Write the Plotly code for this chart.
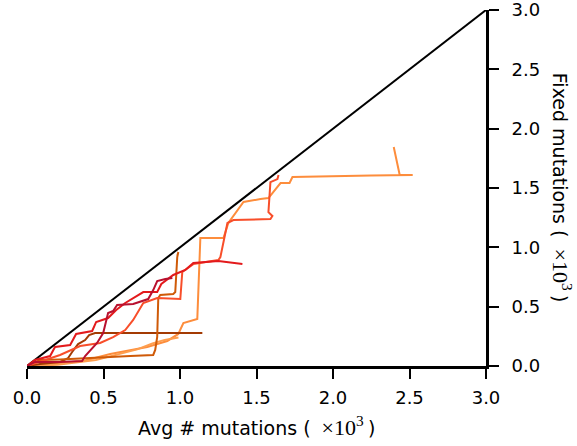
import plotly.graph_objects as go

# Diagonal reference (y = x)
diag_x = [0.0, 3.0]
diag_y = [0.0, 3.0]

# Trajectories: avg # mutations (x1000) vs fixed mutations (x1000)
long_orange_x = [0.0, 0.151, 0.367, 0.544, 0.694, 0.786, 0.917, 0.989, 1.022, 1.113, 1.133, 1.284, 1.316, 1.415, 1.526, 1.578, 1.657, 1.716, 1.735, 1.984, 2.25, 2.521, 2.436, 2.397]
long_orange_y = [0.0, 0.017, 0.042, 0.101, 0.135, 0.160, 0.211, 0.270, 0.362, 0.396, 1.078, 1.078, 1.205, 1.382, 1.407, 1.415, 1.542, 1.542, 1.592, 1.601, 1.605, 1.609, 1.609, 1.845]

short_orange_x = [0.0, 0.2, 0.45, 0.55, 0.72, 0.82, 0.9, 0.99]
short_orange_y = [0.0, 0.01, 0.05, 0.085, 0.14, 0.19, 0.22, 0.24]

orange_red_x = [0.0, 0.118, 0.216, 0.347, 0.478, 0.563, 0.642, 0.694, 0.760, 0.851, 1.002, 1.015, 1.087, 1.251, 1.264, 1.310, 1.349, 1.591, 1.604, 1.578, 1.591, 1.637, 1.644]
orange_red_y = [0.0, 0.051, 0.093, 0.168, 0.194, 0.244, 0.303, 0.388, 0.531, 0.573, 0.564, 0.792, 0.859, 0.893, 0.918, 1.205, 1.230, 1.238, 1.264, 1.297, 1.550, 1.575, 1.609]

red_x = [0.0, 0.052, 0.151, 0.183, 0.282, 0.321, 0.426, 0.452, 0.530, 0.583, 0.642, 0.760, 0.851, 0.878, 0.956, 1.035, 1.087, 1.251, 1.408]
red_y = [0.0, 0.051, 0.084, 0.160, 0.177, 0.270, 0.295, 0.371, 0.404, 0.472, 0.531, 0.623, 0.623, 0.691, 0.767, 0.809, 0.868, 0.885, 0.859]

crimson_x = [0.0, 0.052, 0.216, 0.360, 0.380, 0.458, 0.498, 0.517, 0.530, 0.563, 0.589, 0.694, 0.792, 0.825, 0.851, 0.904, 0.950]
crimson_y = [0.0, 0.034, 0.034, 0.042, 0.084, 0.194, 0.278, 0.371, 0.447, 0.463, 0.514, 0.522, 0.564, 0.640, 0.716, 0.733, 0.741]

amber_x = [0.0, 0.085, 0.216, 0.479, 0.675, 0.825, 0.838, 0.851, 0.858, 0.871, 0.956, 0.969, 0.982, 0.989, 0.982]
amber_y = [0.0, 0.05, 0.055, 0.075, 0.085, 0.093, 0.135, 0.245, 0.573, 0.598, 0.607, 0.623, 0.918, 0.960, 0.927]

brown_x = [0.0, 0.085, 0.216, 0.269, 0.295, 0.334, 0.380, 0.406, 0.445, 0.8, 1.146]
brown_y = [0.0, 0.017, 0.034, 0.067, 0.118, 0.185, 0.219, 0.261, 0.278, 0.278, 0.278]

series = [
    (long_orange_x, long_orange_y, "#fd8d3c"),
    (short_orange_x, short_orange_y, "#fe9e4e"),
    (brown_x, brown_y, "#a33a03"),
    (amber_x, amber_y, "#cf5a08"),
    (orange_red_x, orange_red_y, "#f84e2a"),
    (red_x, red_y, "#e31a1c"),
    (crimson_x, crimson_y, "#b8102e"),
]

tick_vals = [0, 0.5, 1, 1.5, 2, 2.5, 3]
tick_text = ["0.0", "0.5", "1.0", "1.5", "2.0", "2.5", "3.0"]

FONT = "DejaVu Sans"
MATH = ("<span style='font-family:Liberation Serif;font-size:22px'>"
        "\u2002×10<sup>3</sup>\u2009</span>")
fig = go.Figure()
fig.add_trace(go.Scatter(x=diag_x, y=diag_y, mode="lines",
                         line=dict(color="black", width=2), cliponaxis=False,
                         showlegend=False, hoverinfo="skip"))
for xs, ys, c in series:
    fig.add_trace(go.Scatter(x=xs, y=ys, mode="lines",
                             line=dict(color=c, width=2),
                             showlegend=False))

axis_common = dict(range=[0, 3], tickvals=tick_vals, ticktext=tick_text,
                   showline=True, linecolor="black", linewidth=3,
                   ticks="outside", ticklen=10, tickwidth=2, tickcolor="black",
                   showgrid=False, zeroline=False, fixedrange=True,
                   automargin=False, ticklabeloverflow="allow",
                   tickfont=dict(family=FONT, size=18))

fig.update_layout(
    width=577, height=446,
    margin=dict(l=27, r=91, t=10, b=80, autoexpand=False),
    plot_bgcolor="white", paper_bgcolor="white",
    font=dict(family=FONT, size=19, color="black"),
    xaxis=dict(ticklabelstandoff=3, **axis_common),
    yaxis=dict(side="right", ticklabelstandoff=9, **axis_common),
    annotations=[
        dict(text="Avg # mutations (" + MATH + ")", xref="paper", yref="paper",
             x=0.5, y=-0.168, xanchor="center", yanchor="middle",
             showarrow=False, font=dict(family=FONT, size=19)),
        dict(text="Fixed mutations (" + MATH + ")", xref="paper", yref="paper",
             x=1.166, y=0.5, xanchor="center", yanchor="middle", textangle=90,
             showarrow=False, font=dict(family=FONT, size=19)),
    ],
)

fig.write_html("out.html", config={"displayModeBar": False},
               post_script="document.body.style.margin='0';document.body.style.padding='0';")
